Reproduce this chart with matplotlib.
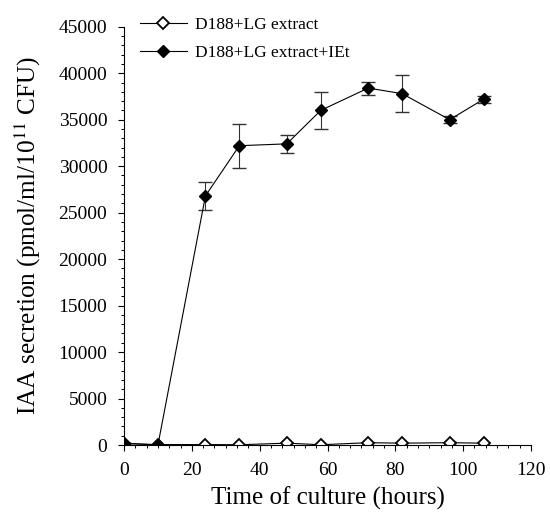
import matplotlib
matplotlib.use("Agg")
import matplotlib.pyplot as plt
from matplotlib.ticker import MultipleLocator

# hours of culture
hours = [0, 10, 24, 34, 48, 58, 72, 82, 96, 106]

# D188 + LG extract (open diamonds)
lg_values = [150, 50, 50, 30, 200, 30, 250, 200, 250, 200]
lg_err = [0, 0, 0, 0, 0, 0, 0, 0, 150, 150]

# D188 + LG extract + IEt (filled diamonds)
iet_values = [200, 0, 26800, 32200, 32400, 36000, 38400, 37800, 35000, 37200]
iet_err = [0, 0, 1500, 2350, 1000, 2000, 700, 2000, 400, 400]

labels = ["D188+LG extract", "D188+LG extract+IEt"]

plt.rcParams['font.family'] = ['Liberation Serif', 'DejaVu Serif']
plt.rcParams['mathtext.fontset'] = 'stix'

fig = plt.figure(figsize=(5.5, 5.14), dpi=100)
ax = fig.add_axes([0.2255, 0.1342, 0.74, 0.8138])

# error bars first, then lines with markers on top
ax.errorbar(hours, lg_values, yerr=lg_err, fmt='none', ecolor='#999999',
	elinewidth=0.8, capsize=4)
ax.errorbar(hours, iet_values, yerr=iet_err, fmt='none', ecolor='#333333',
	elinewidth=0.8, capsize=5)
ax.plot(hours, lg_values, color='black', marker='D', markersize=6.5,
	markerfacecolor='white', markeredgewidth=1.3, linewidth=0.8, label=labels[0])
ax.plot(hours, iet_values, color='black', marker='D', markersize=6.5,
	markerfacecolor='black', linewidth=0.8, label=labels[1])

ax.set_xlim(0, 120)
ax.set_ylim(0, 45000)
ax.xaxis.set_major_locator(MultipleLocator(20))
ax.xaxis.set_minor_locator(MultipleLocator(20 / 6))
ax.yaxis.set_major_locator(MultipleLocator(5000))
ax.yaxis.set_minor_locator(MultipleLocator(1000))

for side in ['top', 'right']:
	ax.spines[side].set_visible(False)
ax.spines['left'].set_linewidth(0.8)
ax.spines['bottom'].set_linewidth(0.8)
ax.tick_params(which='major', direction='out', length=4, width=0.8, labelsize=14, pad=8)
ax.tick_params(which='minor', direction='out', length=2.5, width=0.7)

ax.set_xlabel("Time of culture (hours)", fontsize=18, labelpad=6)
ax.set_ylabel("IAA secretion (pmol/ml/10$^{11}$ CFU)", fontsize=18.2, labelpad=11)

ax.legend(loc='upper left', bbox_to_anchor=(0.0, 1.06), frameon=False,
	fontsize=12.5, handlelength=2.7, handletextpad=0.5, labelspacing=0.65)

fig.savefig("out.png", dpi=100)
